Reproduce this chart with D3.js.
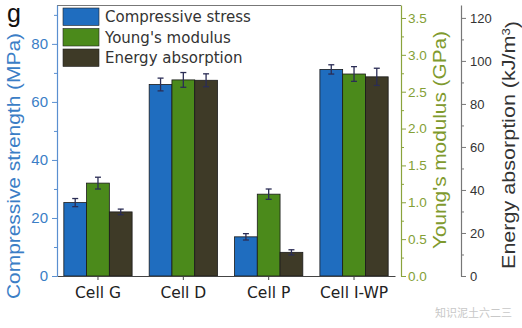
<!DOCTYPE html>
<html>
<head>
<meta charset="utf-8">
<script src="https://cdn.jsdelivr.net/npm/d3@7/dist/d3.min.js"></script>
<style>
	body { margin: 0; background: #fff; }
	text { font-family: "Liberation Sans", Arial, sans-serif; }
	.wide { font-family: "DejaVu Sans", sans-serif; }
</style>
</head>
<body>
<svg id="chart" width="522" height="328"></svg>
<script>
var categories = ["Cell G", "Cell D", "Cell P", "Cell I-WP"];
var series = ["Compressive stress", "Young's modulus", "Energy absorption"];
var compressive = [25.3, 66.0, 13.5, 71.2];
var compressiveErr = [1.4, 2.2, 1.1, 1.6];
var modulus = [1.26, 2.66, 1.11, 2.74];
var modulusErr = [0.08, 0.1, 0.07, 0.1];
var energy = [29.8, 91.0, 11.0, 92.6];
var energyErr = [1.3, 3.0, 1.2, 4.0];
var leftTicks = [0, 20, 40, 60, 80];
var modTicks = [0, 0.5, 1.0, 1.5, 2.0, 2.5, 3.0, 3.5];
var energyTicks = [0, 20, 40, 60, 80, 100, 120];

var colors = ["#1f6dbf", "#4b8a1b", "#3e3a27"];
var plotTop = 5, plotBottom = 276, plotLeft = 57, plotRight = 401;

var svg = d3.select("#chart");

// scales
var x = d3.scaleBand().domain(categories).range([plotLeft, 395]).paddingInner(0.2).paddingOuter(0.08);
var xs = d3.scaleBand().domain([0, 1, 2]).range([0, x.bandwidth()]);
var yL = d3.scaleLinear().domain([0, 93.4]).range([plotBottom, plotTop]);
var yG = d3.scaleLinear().domain([0, 3.676]).range([plotBottom, plotTop]);
var yE = d3.scaleLinear().domain([0, 126]).range([plotBottom, plotTop]);

var scales = [yL, yG, yE];
var vals = [compressive, modulus, energy];
var errs = [compressiveErr, modulusErr, energyErr];

// frame top line
svg.append("line").attr("x1", plotLeft).attr("x2", plotRight).attr("y1", plotTop + 0.5).attr("y2", plotTop + 0.5)
	.attr("stroke", "#777").attr("stroke-width", 1);

// bars
series.forEach(function(s, si) {
	svg.append("g").selectAll("rect")
		.data(categories)
		.enter().append("rect")
		.attr("x", function(d) { return x(d) + xs(si); })
		.attr("width", xs.bandwidth())
		.attr("y", function(d, i) { return scales[si](vals[si][i]); })
		.attr("height", function(d, i) { return plotBottom - scales[si](vals[si][i]); })
		.attr("fill", colors[si])
		.attr("stroke", "#1a1a1a")
		.attr("stroke-width", 0.8);
});

// error bars
series.forEach(function(s, si) {
	var g = svg.append("g").attr("stroke", "#2b2d55").attr("stroke-width", 1.3);
	categories.forEach(function(c, i) {
		var cx = x(c) + xs(si) + xs.bandwidth() / 2;
		var y0 = scales[si](vals[si][i] - errs[si][i]);
		var y1 = scales[si](vals[si][i] + errs[si][i]);
		g.append("line").attr("x1", cx).attr("x2", cx).attr("y1", y0).attr("y2", y1);
		g.append("line").attr("x1", cx - 3).attr("x2", cx + 3).attr("y1", y0).attr("y2", y0);
		g.append("line").attr("x1", cx - 3).attr("x2", cx + 3).attr("y1", y1).attr("y2", y1);
	});
});

// x axis
var xAxis = svg.append("g")
	.attr("transform", "translate(0," + plotBottom + ")")
	.call(d3.axisBottom(x).tickSize(4).tickSizeOuter(0).tickPadding(7));
xAxis.select(".domain").attr("stroke", "#444").attr("stroke-width", 1.2);
xAxis.selectAll(".tick line").attr("stroke", "#444");
xAxis.selectAll("text").attr("class", "wide").attr("fill", "#222").style("font-size", "15.5px").attr("dy", "0.71em");

// axes helper
function styleAxis(g, color, textColor, size) {
	g.select(".domain").attr("stroke", color).attr("stroke-width", 1.2);
	g.selectAll(".tick line").attr("stroke", color);
	g.selectAll("text").attr("fill", textColor).style("font-size", size);
}
function minor(axisFn, scale, ticks, tx, color) {
	svg.append("g").attr("transform", "translate(" + tx + ",0)")
		.call(axisFn(scale).tickValues(ticks).tickSize(3).tickFormat(""))
		.call(function(g) { g.select(".domain").remove(); g.selectAll("line").attr("stroke", color); });
}

// left axis
var gL = svg.append("g").attr("transform", "translate(" + plotLeft + ",0)")
	.call(d3.axisLeft(yL).tickValues(leftTicks).tickSize(5).tickSizeOuter(0).tickPadding(4));
styleAxis(gL, "#5a8fd0", "#3b7ec6", "15px");
minor(d3.axisLeft, yL, [10, 30, 50, 70, 90], plotLeft, "#5a8fd0");

// modulus axis
var gG = svg.append("g").attr("transform", "translate(" + plotRight + ",0)")
	.call(d3.axisRight(yG).tickValues(modTicks).tickSize(5).tickSizeOuter(0).tickPadding(2).tickFormat(d3.format(".1f")));
styleAxis(gG, "#8aa33c", "#84a035", "13.5px");
minor(d3.axisRight, yG, [0.25, 0.75, 1.25, 1.75, 2.25, 2.75, 3.25], plotRight, "#8aa33c");

// energy axis
var eX = 461;
var gE = svg.append("g").attr("transform", "translate(" + eX + ",0)")
	.call(d3.axisRight(yE).tickValues(energyTicks).tickSize(5).tickSizeOuter(0).tickPadding(4));
styleAxis(gE, "#777", "#333", "13px");
minor(d3.axisRight, yE, [10, 30, 50, 70, 90, 110], eX, "#777");

// axis titles
svg.append("text").attr("transform", "translate(20,166) rotate(-90)")
	.attr("text-anchor", "middle").attr("fill", "#3b7ec6").style("font-size", "18px")
	.attr("textLength", 266).attr("lengthAdjust", "spacingAndGlyphs")
	.text("Compressive strength (MPa)");
svg.append("text").attr("transform", "translate(446,140) rotate(-90)")
	.attr("text-anchor", "middle").attr("fill", "#7f9a2e").style("font-size", "18px")
	.attr("textLength", 218).attr("lengthAdjust", "spacingAndGlyphs")
	.text("Young's modulus (GPa)");
var et = svg.append("text").attr("transform", "translate(515,145) rotate(-90)")
	.attr("text-anchor", "middle").attr("fill", "#333").style("font-size", "18px")
	.attr("textLength", 248).attr("lengthAdjust", "spacingAndGlyphs");
et.append("tspan").text("Energy absorption (kJ/m");
et.append("tspan").attr("dy", "-0.45em").style("font-size", "11px").text("3");
et.append("tspan").attr("dy", "0.45em").text(")");

// legend
var lg = svg.append("g");
series.forEach(function(s, i) {
	lg.append("rect").attr("x", 63).attr("y", 8 + i * 20.5).attr("width", 36).attr("height", 17.5)
		.attr("fill", colors[i]).attr("stroke", "#222").attr("stroke-width", 0.6);
	lg.append("text").attr("class", "wide").attr("x", 105).attr("y", 17 + i * 20.5).attr("dy", "0.35em")
		.attr("fill", "#333").style("font-size", "15px").text(s);
});

// panel label
svg.append("text").attr("x", 7).attr("y", 22).attr("fill", "#111")
	.style("font-size", "25px").text("g");

// watermark
svg.append("text").attr("x", 512).attr("y", 317).attr("text-anchor", "end")
	.attr("fill", "#c8c8c8").style("font-family", "'Noto Sans CJK SC'").style("font-size", "11px")
	.text("知识泥土六二三");
</script>
</body>
</html>
